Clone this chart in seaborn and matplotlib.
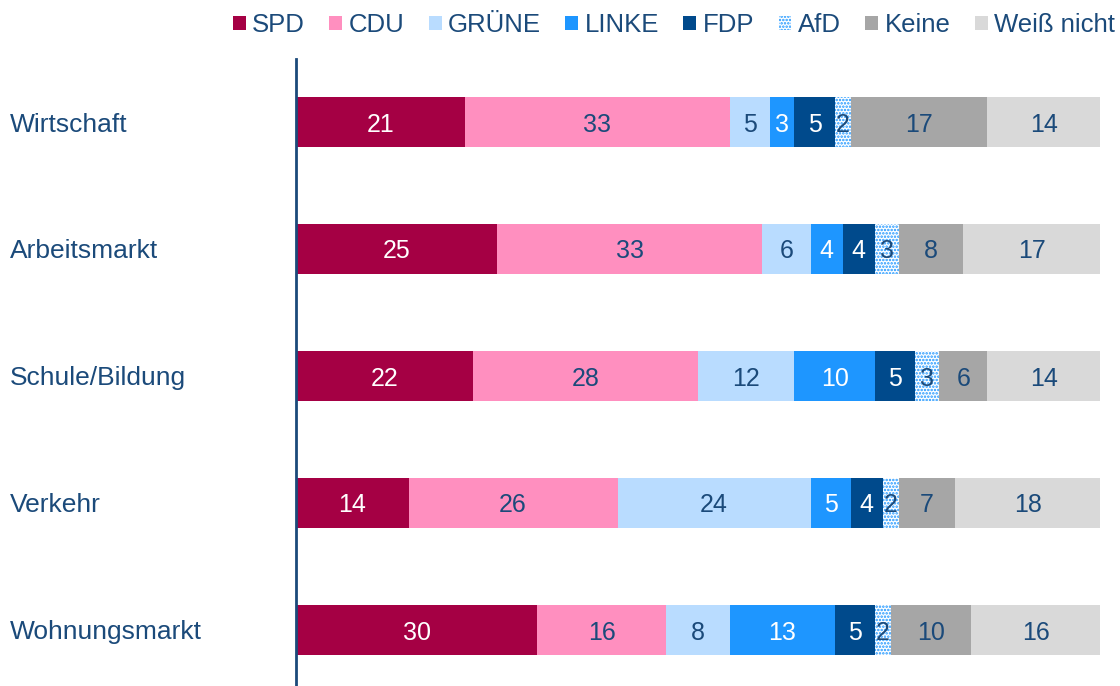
import pandas as pd
import matplotlib.pyplot as plt
import seaborn as sns
import numpy as np

sns.set_theme(style="white")
plt.rcParams['font.family'] = ['Liberation Sans', 'DejaVu Sans']
plt.rcParams['hatch.linewidth'] = 1.2

# Data
topics = ['Wirtschaft', 'Arbeitsmarkt', 'Schule/Bildung', 'Verkehr', 'Wohnungsmarkt']
parties = ['SPD', 'CDU', 'GRÜNE', 'LINKE', 'FDP', 'AfD', 'Keine', 'Weiß nicht']
spd = [21, 25, 22, 14, 30]
cdu = [33, 33, 28, 26, 16]
gruene = [5, 6, 12, 24, 8]
linke = [3, 4, 10, 5, 13]
fdp = [5, 4, 5, 4, 5]
afd = [2, 3, 3, 2, 2]
keine = [17, 8, 6, 7, 10]
weiss_nicht = [14, 17, 14, 18, 16]

colors = ['#A50044', '#FF8FBF', '#B9DCFF', '#1E96FF', '#004A8C', 'white', '#A6A6A6', '#D9D9D9']
text_colors = ['white', '#1B4A7A', '#1B4A7A', 'white', 'white', '#1B4A7A', '#1B4A7A', '#1B4A7A']
dark = '#1B4A7A'

df = pd.DataFrame({'Thema': topics, 'SPD': spd, 'CDU': cdu, 'GRÜNE': gruene, 'LINKE': linke,
                   'FDP': fdp, 'AfD': afd, 'Keine': keine, 'Weiß nicht': weiss_nicht})
cum = df[parties].cumsum(axis=1)

fig = plt.figure(figsize=(11.2, 6.86), dpi=100)
ax = fig.add_axes([296 / 1120, 0, 804 / 1120, 1 - 58.5 / 686])

# draw cumulative bars from the last segment backwards so each one overlays the next
for i in range(len(parties) - 1, -1, -1):
    p = parties[i]
    plot_df = pd.DataFrame({'Thema': topics, 'val': cum[p].values})
    sns.barplot(data=plot_df, y='Thema', x='val', orient='h', color=colors[i],
                saturation=1, width=0.4, ax=ax, linewidth=0, order=topics)
    if p == 'AfD':
        for patch in ax.patches[-len(topics):]:
            patch.set_hatch('.....')
            patch.set_edgecolor('#1E96FF')
            patch.set_linewidth(0)

# value labels
for i, p in enumerate(parties):
    for j in range(len(topics)):
        v = df[p].iloc[j]
        center = cum[p].iloc[j] - v / 2
        ax.text(center, j, str(v), ha='center', va='center_baseline', fontsize=18, color=text_colors[i])

ax.set_xlim(0, 100)
ax.set_ylim(4.5 - 7.5 / 127, -0.5)
ax.set_xlabel('')
ax.set_ylabel('')
ax.set_xticks([])
ax.set_yticks([])
for s in ['top', 'right', 'bottom']:
    ax.spines[s].set_visible(False)
ax.spines['left'].set_color(dark)
ax.spines['left'].set_linewidth(2)

# category labels
trans = plt.matplotlib.transforms.blended_transform_factory(fig.transFigure, ax.transData)
for j, t in enumerate(topics):
    fig.text(10 / 1120, j, t, transform=trans, ha='left', va='center_baseline', fontsize=19, color=dark)

# legend
handles = []
for i, p in enumerate(parties):
    h = plt.matplotlib.patches.Patch(facecolor=colors[i], edgecolor='#1E96FF' if p == 'AfD' else colors[i],
                                     hatch='.....' if p == 'AfD' else None, linewidth=0, label=p)
    handles.append(h)
leg = fig.legend(handles=handles, loc='center right', bbox_to_anchor=(1115 / 1120, 1 - 25 / 686), ncol=8,
                 frameon=False, fontsize=18.5, handlelength=0.5, handleheight=0.5, handletextpad=0.25,
                 columnspacing=0.95, borderpad=0, borderaxespad=0)
for t in leg.get_texts():
    t.set_color(dark)

plt.savefig('out.png', dpi=100)
